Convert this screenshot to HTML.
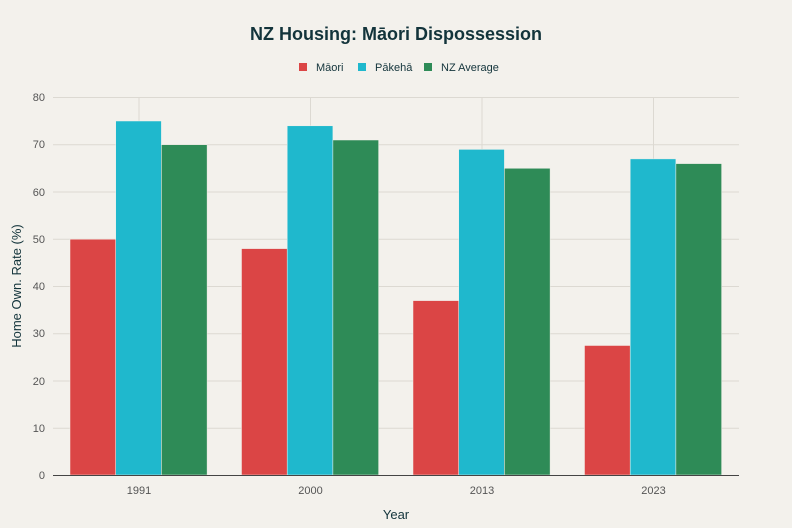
<!DOCTYPE html><html><head><style>body{margin:0;background:#f3f1ec;}svg{display:block;font-family:"Liberation Sans",sans-serif;}</style></head><body>
<svg width="792" height="528" viewBox="0 0 792 528">
<rect width="792" height="528" fill="#f3f1ec"/>
<text x="396" y="40" text-anchor="middle" font-size="18" font-weight="bold" fill="#13343b">NZ Housing: Māori Dispossession</text>
<g font-size="11" fill="#13343b">
<rect x="299" y="63" width="8" height="8" fill="#db4545"/><text x="316" y="71">Māori</text>
<rect x="358" y="63" width="8" height="8" fill="#1fb8cd"/><text x="375" y="71">Pākehā</text>
<rect x="424" y="63" width="8" height="8" fill="#2e8b57"/><text x="441" y="71">NZ Average</text>
</g>
<g stroke="#dcd9d2" stroke-width="1">
<line x1="53" x2="739" y1="97.5" y2="97.5"/><line x1="53" x2="739" y1="144.7" y2="144.7"/><line x1="53" x2="739" y1="192" y2="192"/><line x1="53" x2="739" y1="239.2" y2="239.2"/><line x1="53" x2="739" y1="286.5" y2="286.5"/><line x1="53" x2="739" y1="333.7" y2="333.7"/><line x1="53" x2="739" y1="381" y2="381"/><line x1="53" x2="739" y1="428.2" y2="428.2"/>
<line x1="139" x2="139" y1="97" y2="475"/><line x1="310.5" x2="310.5" y1="97" y2="475"/><line x1="482" x2="482" y1="97" y2="475"/><line x1="653.5" x2="653.5" y1="97" y2="475"/>
</g>
<g font-size="11" fill="#555" text-anchor="end">
<text x="45" y="101">80</text><text x="45" y="148">70</text><text x="45" y="196">60</text><text x="45" y="243">50</text><text x="45" y="290">40</text><text x="45" y="337">30</text><text x="45" y="385">20</text><text x="45" y="432">10</text><text x="45" y="479">0</text>
</g>
<g stroke="#f3f1ec" stroke-width="0.5">
<rect x="70" y="239.2" width="45.7" height="235.8" fill="#db4545"/><rect x="115.7" y="121" width="45.7" height="354" fill="#1fb8cd"/><rect x="161.4" y="144.7" width="45.7" height="330.3" fill="#2e8b57"/>
<rect x="241.5" y="248.6" width="45.7" height="226.4" fill="#db4545"/><rect x="287.2" y="125.8" width="45.7" height="349.2" fill="#1fb8cd"/><rect x="332.9" y="140" width="45.7" height="335" fill="#2e8b57"/>
<rect x="413" y="300.6" width="45.7" height="174.4" fill="#db4545"/><rect x="458.7" y="149.4" width="45.7" height="325.6" fill="#1fb8cd"/><rect x="504.4" y="168.3" width="45.7" height="306.7" fill="#2e8b57"/>
<rect x="584.5" y="345.5" width="45.7" height="129.5" fill="#db4545"/><rect x="630.2" y="158.9" width="45.7" height="316.1" fill="#1fb8cd"/><rect x="675.9" y="163.6" width="45.7" height="311.4" fill="#2e8b57"/>
</g>
<line x1="53" x2="739" y1="475.5" y2="475.5" stroke="#444" stroke-width="1"/>
<g font-size="11" fill="#555" text-anchor="middle">
<text x="139" y="494">1991</text><text x="310.5" y="494">2000</text><text x="482" y="494">2013</text><text x="653.5" y="494">2023</text>
</g>
<text x="396" y="519" text-anchor="middle" font-size="13" fill="#13343b">Year</text>
<text transform="translate(21,286) rotate(-90)" text-anchor="middle" font-size="13" fill="#13343b">Home Own. Rate (%)</text>
</svg></body></html>
